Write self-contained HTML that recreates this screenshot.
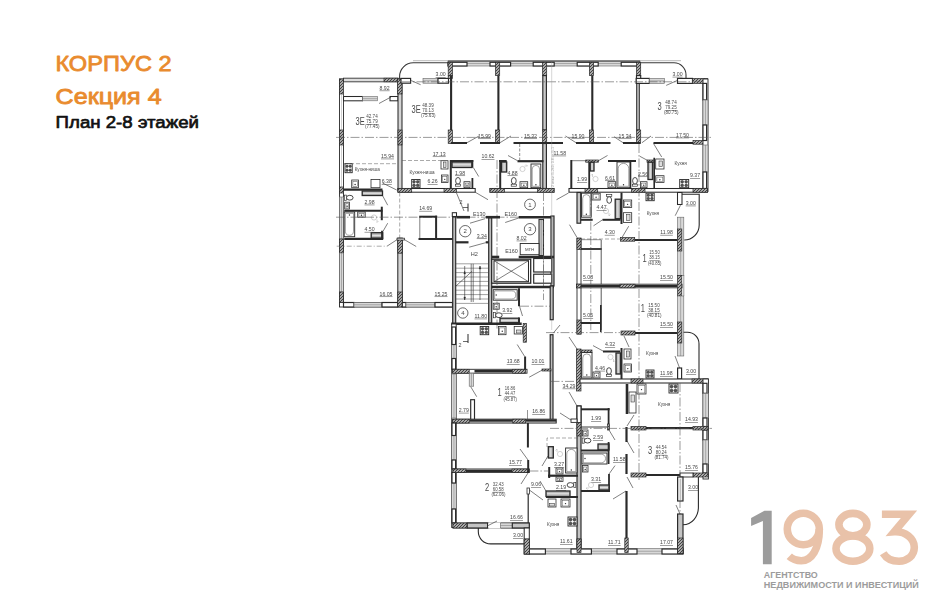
<!DOCTYPE html>
<html><head><meta charset="utf-8"><title>plan</title>
<style>
html,body{margin:0;padding:0;background:#fff;}
body{width:941px;height:600px;overflow:hidden;font-family:"Liberation Sans",sans-serif;}
svg{display:block;}
svg text{font-family:"Liberation Sans",sans-serif;}
</style></head><body>
<svg width="941" height="600" viewBox="0 0 941 600">
<defs>
<pattern id="hp" width="3" height="3" patternUnits="userSpaceOnUse">
<rect width="3" height="3" fill="#a8a8a8"/>
<path d="M0 3L3 0M-1 1L1 -1M2 4L4 2" stroke="#303030" stroke-width="0.85"/>
</pattern>
</defs>
<rect width="941" height="600" fill="#fff"/>
<!-- titles -->
<text x="55.4" y="71.4" font-size="22.8" fill="#E98B2E" stroke="#E98B2E" stroke-width="0.85" stroke-linejoin="round" textLength="116.2" lengthAdjust="spacingAndGlyphs">КОРПУС 2</text>
<text x="55.6" y="103.5" font-size="22.8" fill="#E98B2E" stroke="#E98B2E" stroke-width="0.85" stroke-linejoin="round" textLength="106" lengthAdjust="spacingAndGlyphs">Секция 4</text>
<text x="55.6" y="128" font-size="17.4" fill="#111" stroke="#111" stroke-width="0.7" stroke-linejoin="round" textLength="143.4" lengthAdjust="spacingAndGlyphs">План 2-8 этажей</text>
<!-- logo -->
<g id="logo">
<path d="M751.1 518.1 L764.5 510.7 L771.7 510.7 L771.7 564.2 L762.9 564.2 L762.9 520.9 L751.1 525.9 Z" fill="#9c9c9c"/>
<g fill="none" stroke="#E9C2A9" stroke-width="7.6">
<ellipse cx="803.3" cy="529" rx="16" ry="15.7"/>
<path d="M819.3 529 C819.3 549.5 811.5 560.7 801.3 560.7 C796.5 560.7 792.3 559.2 789.3 556.3"/>
<ellipse cx="852.9" cy="524.6" rx="14" ry="11.2"/>
<ellipse cx="852.9" cy="548.6" rx="16.9" ry="12.7"/>
<path d="M881.9 514.2 L909 514.2 L894.2 531.8 C905.5 531 914.3 538.5 914.3 547.3 C914.3 555.8 907.5 561.2 899 561.2 C891.5 561.2 886.3 558.3 883.2 553.2" stroke-linejoin="miter"/>
</g>
<text x="763.8" y="577.8" font-size="8.4" font-weight="bold" fill="#9c9c9c" textLength="54" lengthAdjust="spacingAndGlyphs">АГЕНТСТВО</text>
<text x="763.8" y="588.2" font-size="8.4" font-weight="bold" fill="#9c9c9c" textLength="155" lengthAdjust="spacingAndGlyphs">НЕДВИЖИМОСТИ И ИНВЕСТИЦИЙ</text>
</g>
<!-- floor plan -->
<g id="plan" style="filter:grayscale(1)">
<rect x="339.5" y="79" width="4.0" height="227.5" fill="#fff" stroke="#2a2a2a" stroke-width="0.91"/>
<line x1="341.5" y1="95" x2="341.5" y2="130" stroke="#888" stroke-width="0.4"/>
<line x1="341.5" y1="146" x2="341.5" y2="187" stroke="#888" stroke-width="0.4"/>
<rect x="339.5" y="79" width="4.0" height="15" fill="url(#hp)" stroke="#2a2a2a" stroke-width="0.7"/>
<rect x="339.5" y="130" width="4.0" height="15" fill="url(#hp)" stroke="#2a2a2a" stroke-width="0.7"/>
<rect x="339.5" y="187" width="4.0" height="6" fill="url(#hp)" stroke="#2a2a2a" stroke-width="0.7"/>
<rect x="343.5" y="78.2" width="54.5" height="3.6" fill="#fff" stroke="#2a2a2a" stroke-width="0.91"/>
<line x1="343.5" y1="80" x2="384" y2="80" stroke="#777" stroke-width="0.5"/>
<rect x="384" y="78.2" width="14" height="3.6" fill="url(#hp)" stroke="#2a2a2a" stroke-width="0.7"/>
<rect x="343.5" y="96.5" width="19.0" height="4.3" fill="#fff" stroke="#2a2a2a" stroke-width="1.04"/>
<rect x="362.5" y="96.5" width="15.0" height="4.3" fill="#d8d8d8" stroke="#666" stroke-width="0.6"/>
<line x1="362.5" y1="98.65" x2="377.5" y2="98.65" stroke="#777" stroke-width="0.5"/>
<rect x="390" y="96.5" width="8" height="4.3" fill="#fff" stroke="#2a2a2a" stroke-width="1.04"/>
<line x1="379" y1="103.5" x2="391" y2="97" stroke="#2a2a2a" stroke-width="0.6"/>
<line x1="343.5" y1="82" x2="343.5" y2="96.5" stroke="#666" stroke-width="0.5"/>
<rect x="398" y="79" width="4" height="112" fill="#d4d4d4" stroke="#2a2a2a" stroke-width="1.04"/>
<rect x="397.5" y="79" width="4.5" height="15" fill="url(#hp)" stroke="#2a2a2a" stroke-width="0.7"/>
<rect x="398" y="130" width="4" height="15" fill="url(#hp)" stroke="#2a2a2a" stroke-width="0.7"/>
<path d="M399.6 79.4 L399.6 76.4 A13.6 13.6 0 0 1 413.2 62.8 L448 62.8" fill="none" stroke="#3a3a3a" stroke-width="1.1"/>
<line x1="413" y1="60.7" x2="448" y2="60.7" stroke="#777" stroke-width="0.5"/>
<rect x="401" y="78.4" width="9.6" height="4.8" fill="#fff" stroke="#2a2a2a" stroke-width="1.17"/>
<line x1="411.2" y1="80.6" x2="420.6" y2="84.7" stroke="#2a2a2a" stroke-width="0.6"/>
<rect x="423" y="78.4" width="15" height="4.8" fill="#d8d8d8" stroke="#666" stroke-width="0.6"/>
<line x1="423" y1="80.80000000000001" x2="438" y2="80.80000000000001" stroke="#777" stroke-width="0.5"/>
<rect x="448.2" y="75.6" width="4.2" height="3.0" fill="url(#hp)" stroke="#2a2a2a" stroke-width="0.7"/>
<rect x="438" y="78.4" width="10.5" height="4.8" fill="#fff" stroke="#2a2a2a" stroke-width="1.17"/>
<rect x="448" y="61" width="192" height="5" fill="#d8d8d8" stroke="#666" stroke-width="0.6"/>
<line x1="448" y1="63.5" x2="640" y2="63.5" stroke="#777" stroke-width="0.5"/>
<line x1="448" y1="61" x2="640" y2="61" stroke="#2a2a2a" stroke-width="0.9"/>
<rect x="448" y="62.3" width="19" height="3.7" fill="#fff" stroke="#2a2a2a" stroke-width="1.17"/>
<rect x="490" y="62.3" width="20.6" height="3.7" fill="#fff" stroke="#2a2a2a" stroke-width="1.17"/>
<rect x="533.2" y="62.3" width="21.0" height="3.7" fill="#fff" stroke="#2a2a2a" stroke-width="1.17"/>
<rect x="577.2" y="62.3" width="21.0" height="3.7" fill="#fff" stroke="#2a2a2a" stroke-width="1.17"/>
<rect x="621.2" y="62.3" width="18.5" height="3.7" fill="#fff" stroke="#2a2a2a" stroke-width="1.17"/>
<rect x="448.2" y="62.3" width="4.2" height="13.3" fill="url(#hp)" stroke="#2a2a2a" stroke-width="0.7"/>
<line x1="451.09999999999997" y1="75.6" x2="451.09999999999997" y2="130" stroke="#2a2a2a" stroke-width="2.1"/>
<rect x="448.2" y="130" width="4.2" height="13.5" fill="url(#hp)" stroke="#2a2a2a" stroke-width="0.7"/>
<rect x="495.5" y="62.3" width="4.2" height="13.3" fill="url(#hp)" stroke="#2a2a2a" stroke-width="0.7"/>
<line x1="498.4" y1="75.6" x2="498.4" y2="130" stroke="#2a2a2a" stroke-width="2.1"/>
<rect x="495.5" y="130" width="4.2" height="13.5" fill="url(#hp)" stroke="#2a2a2a" stroke-width="0.7"/>
<rect x="542.5" y="62.3" width="4.2" height="13.3" fill="url(#hp)" stroke="#2a2a2a" stroke-width="0.7"/>
<rect x="542.8" y="75.6" width="3.6" height="54.4" fill="#c8c8c8" stroke="#2a2a2a" stroke-width="1.17"/>
<rect x="542.5" y="130" width="4.2" height="13.5" fill="url(#hp)" stroke="#2a2a2a" stroke-width="0.7"/>
<rect x="589.4" y="62.3" width="4.2" height="13.3" fill="url(#hp)" stroke="#2a2a2a" stroke-width="0.7"/>
<line x1="592.3" y1="75.6" x2="592.3" y2="130" stroke="#2a2a2a" stroke-width="2.1"/>
<rect x="589.4" y="130" width="4.2" height="13.5" fill="url(#hp)" stroke="#2a2a2a" stroke-width="0.7"/>
<rect x="636.5" y="62.3" width="4.2" height="13.3" fill="url(#hp)" stroke="#2a2a2a" stroke-width="0.7"/>
<rect x="636.7" y="82.4" width="2.6" height="47.6" fill="#c8c8c8" stroke="#2a2a2a" stroke-width="1.04"/>
<rect x="636.5" y="130" width="4.2" height="13.5" fill="url(#hp)" stroke="#2a2a2a" stroke-width="0.7"/>
<rect x="542.8" y="143.5" width="3.6" height="45.0" fill="#c8c8c8" stroke="#2a2a2a" stroke-width="1.17"/>
<line x1="451" y1="143" x2="467" y2="143" stroke="#2a2a2a" stroke-width="2.0"/>
<line x1="480" y1="143" x2="500" y2="143" stroke="#2a2a2a" stroke-width="2.0"/>
<line x1="513.5" y1="143" x2="563" y2="143" stroke="#2a2a2a" stroke-width="2.0"/>
<line x1="576" y1="143" x2="610.5" y2="143" stroke="#2a2a2a" stroke-width="2.0"/>
<line x1="623" y1="143" x2="640" y2="143" stroke="#2a2a2a" stroke-width="2.0"/>
<line x1="653.5" y1="143" x2="693" y2="143" stroke="#2a2a2a" stroke-width="2.0"/>
<rect x="693" y="140.5" width="11" height="3.7" fill="url(#hp)" stroke="#2a2a2a" stroke-width="0.7"/>
<line x1="467" y1="142.7" x2="479" y2="136" stroke="#2a2a2a" stroke-width="0.6"/>
<line x1="500" y1="142.7" x2="511" y2="136" stroke="#2a2a2a" stroke-width="0.6"/>
<line x1="565.5" y1="136" x2="576" y2="142.7" stroke="#2a2a2a" stroke-width="0.6"/>
<line x1="614" y1="136.7" x2="623" y2="142.7" stroke="#2a2a2a" stroke-width="0.6"/>
<line x1="651" y1="136" x2="642" y2="142.7" stroke="#2a2a2a" stroke-width="0.6"/>
<line x1="653.5" y1="143.5" x2="661.7" y2="157" stroke="#2a2a2a" stroke-width="0.6"/>
<path d="M640 62.8 L674 62.8 A12 12 0 0 1 686 74.8 L686 78.5" fill="none" stroke="#3a3a3a" stroke-width="1.1"/>
<line x1="640" y1="60.7" x2="681" y2="60.7" stroke="#777" stroke-width="0.5"/>
<rect x="636.5" y="75.6" width="4.2" height="7.8" fill="#fff" stroke="#2a2a2a" stroke-width="1.17"/>
<rect x="636.2" y="78.4" width="13.2" height="5.0" fill="#fff" stroke="#2a2a2a" stroke-width="1.17"/>
<rect x="649.4" y="78.4" width="15.0" height="5.0" fill="#d8d8d8" stroke="#666" stroke-width="0.6"/>
<line x1="649.4" y1="80.9" x2="664.4" y2="80.9" stroke="#777" stroke-width="0.5"/>
<line x1="666.2" y1="85.4" x2="677" y2="80.6" stroke="#2a2a2a" stroke-width="0.6"/>
<rect x="677.5" y="78.4" width="15.0" height="5.0" fill="#fff" stroke="#2a2a2a" stroke-width="1.17"/>
<rect x="692.5" y="78.4" width="15.0" height="5.0" fill="url(#hp)" stroke="#2a2a2a" stroke-width="0.7"/>
<rect x="703" y="79" width="5" height="112.5" fill="#fff" stroke="#2a2a2a" stroke-width="0.91"/>
<rect x="703" y="83.4" width="3.6" height="16.6" fill="#fff" stroke="#2a2a2a" stroke-width="1.17"/>
<rect x="703" y="100" width="5" height="25" fill="#d8d8d8" stroke="#666" stroke-width="0.6"/>
<line x1="705.5" y1="100" x2="705.5" y2="125" stroke="#777" stroke-width="0.5"/>
<rect x="703" y="125" width="3.6" height="15.5" fill="#fff" stroke="#2a2a2a" stroke-width="1.17"/>
<rect x="703" y="145" width="5" height="27" fill="#d8d8d8" stroke="#666" stroke-width="0.6"/>
<line x1="705.5" y1="145" x2="705.5" y2="172" stroke="#777" stroke-width="0.5"/>
<rect x="703" y="172" width="3.6" height="16.5" fill="#fff" stroke="#2a2a2a" stroke-width="1.17"/>
<line x1="336" y1="137.4" x2="712" y2="137.4" stroke="#555" stroke-width="0.6" stroke-dasharray="9 2 1.5 2"/>
<line x1="402" y1="81.8" x2="700" y2="81.8" stroke="#555" stroke-width="0.6" stroke-dasharray="9 2 1.5 2"/>
<line x1="344" y1="163.7" x2="398" y2="163.7" stroke="#555" stroke-width="0.5" stroke-dasharray="4 2"/>
<line x1="402" y1="160.5" x2="441" y2="160.5" stroke="#555" stroke-width="0.5" stroke-dasharray="4 2"/>
<line x1="343.5" y1="189.6" x2="382.5" y2="189.6" stroke="#2a2a2a" stroke-width="2.2"/>
<rect x="398" y="188.5" width="77.2" height="3.7" fill="#fff" stroke="#2a2a2a" stroke-width="1.04"/>
<rect x="398" y="188.5" width="13.7" height="3.7" fill="url(#hp)" stroke="#2a2a2a" stroke-width="0.7"/>
<rect x="444" y="188.5" width="12.5" height="3.7" fill="url(#hp)" stroke="#2a2a2a" stroke-width="0.7"/>
<rect x="490" y="188.5" width="64" height="3.7" fill="#fff" stroke="#2a2a2a" stroke-width="1.04"/>
<rect x="490" y="188.5" width="14.5" height="3.7" fill="url(#hp)" stroke="#2a2a2a" stroke-width="0.7"/>
<rect x="537.5" y="188.5" width="16.5" height="3.7" fill="url(#hp)" stroke="#2a2a2a" stroke-width="0.7"/>
<rect x="569" y="188.5" width="138.5" height="3.7" fill="#fff" stroke="#2a2a2a" stroke-width="1.04"/>
<rect x="585" y="188.5" width="12.7" height="3.7" fill="url(#hp)" stroke="#2a2a2a" stroke-width="0.7"/>
<rect x="631.5" y="188.5" width="13.5" height="3.7" fill="url(#hp)" stroke="#2a2a2a" stroke-width="0.7"/>
<rect x="693" y="188.5" width="14.5" height="3.7" fill="url(#hp)" stroke="#2a2a2a" stroke-width="0.7"/>
<rect x="345" y="163.7" width="7.2" height="9.0" fill="#fff" stroke="#2a2a2a" stroke-width="0.91"/>
<circle cx="347.02" cy="166.22" r="1.22" fill="#555" stroke="#2a2a2a" stroke-width="0.5"/>
<circle cx="347.02" cy="170.18" r="1.22" fill="#555" stroke="#2a2a2a" stroke-width="0.5"/>
<circle cx="350.18" cy="166.22" r="1.22" fill="#555" stroke="#2a2a2a" stroke-width="0.5"/>
<circle cx="350.18" cy="170.18" r="1.22" fill="#555" stroke="#2a2a2a" stroke-width="0.5"/>
<rect x="351.7" y="180" width="6.8" height="7.7" fill="#fff" stroke="#2a2a2a" stroke-width="0.78"/>
<rect x="352.9" y="181.4" width="4.4" height="5.3" fill="#fff" stroke="#555" stroke-width="0.52"/>
<circle cx="355.1" cy="184.45" r="0.7" fill="#2a2a2a"/>
<rect x="371" y="179.5" width="9" height="8.2" fill="#fff" stroke="#2a2a2a" stroke-width="0.78"/>
<line x1="382.5" y1="183" x2="396.7" y2="190" stroke="#2a2a2a" stroke-width="0.6"/>
<rect x="411.7" y="179.5" width="8.3" height="8.2" fill="#fff" stroke="#2a2a2a" stroke-width="0.91"/>
<circle cx="414.02" cy="181.8" r="1.39" fill="#555" stroke="#2a2a2a" stroke-width="0.5"/>
<circle cx="414.02" cy="185.4" r="1.39" fill="#555" stroke="#2a2a2a" stroke-width="0.5"/>
<circle cx="417.68" cy="181.8" r="1.39" fill="#555" stroke="#2a2a2a" stroke-width="0.5"/>
<circle cx="417.68" cy="185.4" r="1.39" fill="#555" stroke="#2a2a2a" stroke-width="0.5"/>
<rect x="441" y="160.7" width="7" height="8.3" fill="#fff" stroke="#2a2a2a" stroke-width="0.78"/>
<rect x="443.5" y="162" width="2.5" height="5.5" fill="#ddd" stroke="#2a2a2a" stroke-width="0.52"/>
<rect x="441.5" y="175" width="6.5" height="7.5" fill="#fff" stroke="#2a2a2a" stroke-width="0.78"/>
<rect x="442.7" y="176.4" width="4.1" height="5.1" fill="#fff" stroke="#555" stroke-width="0.52"/>
<circle cx="444.75" cy="179.35" r="0.7" fill="#2a2a2a"/>
<line x1="450.8" y1="160" x2="450.8" y2="188.5" stroke="#2a2a2a" stroke-width="2.0"/>
<line x1="451" y1="161" x2="473.3" y2="161" stroke="#2a2a2a" stroke-width="2.0"/>
<rect x="452" y="162" width="20" height="5.5" fill="#bbb" stroke="#2a2a2a" stroke-width="1.3"/>
<line x1="453" y1="164.75" x2="471" y2="164.75" stroke="#fff" stroke-width="0.6"/>
<line x1="472.4" y1="160" x2="472.4" y2="167.5" stroke="#2a2a2a" stroke-width="1.8"/>
<line x1="472.4" y1="178" x2="472.4" y2="188" stroke="#2a2a2a" stroke-width="1.8"/>
<line x1="473.3" y1="167.5" x2="478.7" y2="176.5" stroke="#2a2a2a" stroke-width="0.6"/>
<ellipse cx="458" cy="180.8" rx="2.4" ry="3.3" fill="#fff" stroke="#2a2a2a" stroke-width="0.85"/>
<rect x="455.4" y="184.20000000000002" width="5.2" height="2.0" fill="#fff" stroke="#2a2a2a" stroke-width="0.65"/>
<rect x="464" y="181.7" width="6" height="6.0" fill="#fff" stroke="#2a2a2a" stroke-width="0.78"/>
<rect x="465.2" y="183.1" width="3.6" height="3.6" fill="#fff" stroke="#555" stroke-width="0.52"/>
<circle cx="467.0" cy="185.29999999999998" r="0.7" fill="#2a2a2a"/>
<line x1="500.2" y1="160.7" x2="500.2" y2="188.5" stroke="#2a2a2a" stroke-width="2.0"/>
<line x1="499" y1="161" x2="506.7" y2="161" stroke="#2a2a2a" stroke-width="2.0"/>
<rect x="501.5" y="162" width="5.2" height="10" fill="#bbb" stroke="#2a2a2a" stroke-width="1.3"/>
<line x1="504.1" y1="163" x2="504.1" y2="171" stroke="#fff" stroke-width="0.6"/>
<line x1="519.7" y1="144" x2="519.7" y2="160" stroke="#444" stroke-width="0.6" stroke-dasharray="3 1.5"/>
<line x1="517.5" y1="161.2" x2="543.5" y2="161.2" stroke="#2a2a2a" stroke-width="2.2"/>
<line x1="508" y1="155.5" x2="517.5" y2="160.7" stroke="#2a2a2a" stroke-width="0.6"/>
<rect x="531" y="164" width="9.8" height="23.7" fill="#fff" stroke="#2a2a2a" stroke-width="0.91"/>
<path d="M532.2 186.29999999999998 L532.2 169.1 A3.699999999999977 3.699999999999977 0 0 1 539.5999999999999 169.1 L539.5999999999999 186.29999999999998 Z" fill="none" stroke="#444" stroke-width="0.5"/>
<circle cx="535.9" cy="184.7" r="0.7" fill="#2a2a2a"/>
<ellipse cx="513.8" cy="180.8" rx="2.4" ry="3.3" fill="#fff" stroke="#2a2a2a" stroke-width="0.85"/>
<rect x="511.19999999999993" y="184.20000000000002" width="5.2" height="2.0" fill="#fff" stroke="#2a2a2a" stroke-width="0.65"/>
<rect x="520" y="181.7" width="7.7" height="6.0" fill="#fff" stroke="#2a2a2a" stroke-width="0.78"/>
<rect x="521.2" y="183.1" width="5.3" height="3.6" fill="#fff" stroke="#555" stroke-width="0.52"/>
<circle cx="523.85" cy="185.29999999999998" r="0.7" fill="#2a2a2a"/>
<g transform="translate(523.5,169) rotate(90)" stroke="#b5b5b5" stroke-width="0.6" fill="none"><circle cx="0" cy="1" r="2.6"/><path d="M-3 -4 L-3 -1 M-4.5 -2.5 L-3 -4"/></g>
<line x1="571.3" y1="160" x2="571.3" y2="188.5" stroke="#2a2a2a" stroke-width="2.0"/>
<line x1="572" y1="160.7" x2="586" y2="160.7" stroke="#2a2a2a" stroke-width="0.6"/>
<line x1="589.2" y1="160" x2="589.2" y2="188.5" stroke="#2a2a2a" stroke-width="1.8"/>
<rect x="585.7" y="160" width="12.8" height="2.2" fill="url(#hp)" stroke="#2a2a2a" stroke-width="0.7"/>
<rect x="590.2" y="162.2" width="3.8" height="8.8" fill="#bbb" stroke="#2a2a2a" stroke-width="1.3"/>
<line x1="592.1" y1="163.2" x2="592.1" y2="170" stroke="#fff" stroke-width="0.6"/>
<line x1="598.5" y1="160.7" x2="607.5" y2="155.5" stroke="#2a2a2a" stroke-width="0.6"/>
<line x1="608" y1="161" x2="636" y2="161" stroke="#2a2a2a" stroke-width="2.0"/>
<rect x="617" y="162" width="13" height="25.7" fill="#fff" stroke="#2a2a2a" stroke-width="0.91"/>
<path d="M618.2 186.29999999999998 L618.2 168.70000000000002 A5.3 5.3 0 0 1 628.8 168.70000000000002 L628.8 186.29999999999998 Z" fill="none" stroke="#444" stroke-width="0.5"/>
<circle cx="623.5" cy="184.7" r="0.7" fill="#2a2a2a"/>
<line x1="630.6" y1="162" x2="630.6" y2="188.5" stroke="#2a2a2a" stroke-width="1.4"/>
<rect x="608" y="181.7" width="7.7" height="6.0" fill="#fff" stroke="#2a2a2a" stroke-width="0.78"/>
<rect x="609.2" y="183.1" width="5.3" height="3.6" fill="#fff" stroke="#555" stroke-width="0.52"/>
<circle cx="611.85" cy="185.29999999999998" r="0.7" fill="#2a2a2a"/>
<g transform="translate(595.5,178) rotate(0)" stroke="#b5b5b5" stroke-width="0.6" fill="none"><circle cx="0" cy="1" r="2.6"/><path d="M-3 -4 L-3 -1 M-4.5 -2.5 L-3 -4"/></g>
<ellipse cx="635" cy="180.8" rx="2.4" ry="3.3" fill="#fff" stroke="#2a2a2a" stroke-width="0.85"/>
<rect x="632.4" y="184.20000000000002" width="5.2" height="2.0" fill="#fff" stroke="#2a2a2a" stroke-width="0.65"/>
<rect x="640.5" y="181.7" width="6.5" height="6.0" fill="#fff" stroke="#2a2a2a" stroke-width="0.78"/>
<rect x="641.7" y="183.1" width="4.1" height="3.6" fill="#fff" stroke="#555" stroke-width="0.52"/>
<circle cx="643.75" cy="185.29999999999998" r="0.7" fill="#2a2a2a"/>
<rect x="647" y="160" width="7.7" height="2.2" fill="url(#hp)" stroke="#2a2a2a" stroke-width="0.7"/>
<rect x="648" y="162.2" width="4.7" height="17.3" fill="#bbb" stroke="#2a2a2a" stroke-width="1.3"/>
<line x1="650.35" y1="163.2" x2="650.35" y2="178.5" stroke="#fff" stroke-width="0.6"/>
<line x1="654.2" y1="157.7" x2="654.2" y2="188.5" stroke="#2a2a2a" stroke-width="1.6"/>
<line x1="639.7" y1="156.2" x2="648" y2="160.7" stroke="#2a2a2a" stroke-width="0.6"/>
<rect x="655.7" y="159" width="8.3" height="10" fill="#fff" stroke="#2a2a2a" stroke-width="0.78"/>
<rect x="659" y="161" width="3.5" height="5.5" fill="#ddd" stroke="#2a2a2a" stroke-width="0.52"/>
<rect x="655.7" y="175.7" width="8.3" height="6.8" fill="#fff" stroke="#2a2a2a" stroke-width="0.78"/>
<rect x="656.9000000000001" y="177.1" width="5.9" height="4.4" fill="#fff" stroke="#555" stroke-width="0.52"/>
<circle cx="659.85" cy="179.7" r="0.7" fill="#2a2a2a"/>
<rect x="679.7" y="179.5" width="9.0" height="8.2" fill="#fff" stroke="#2a2a2a" stroke-width="0.91"/>
<circle cx="682.22" cy="181.8" r="1.39" fill="#555" stroke="#2a2a2a" stroke-width="0.5"/>
<circle cx="682.22" cy="185.4" r="1.39" fill="#555" stroke="#2a2a2a" stroke-width="0.5"/>
<circle cx="686.18" cy="181.8" r="1.39" fill="#555" stroke="#2a2a2a" stroke-width="0.5"/>
<circle cx="686.18" cy="185.4" r="1.39" fill="#555" stroke="#2a2a2a" stroke-width="0.5"/>
<text x="381" y="157.7" font-size="5.2" fill="#484848" text-anchor="start" text-decoration="underline">15.94</text>
<text x="432.7" y="155.5" font-size="5.2" fill="#484848" text-anchor="start" text-decoration="underline">17.13</text>
<text x="381.7" y="183.2" font-size="5.2" fill="#484848" text-anchor="start" text-decoration="underline">6.38</text>
<text x="427.5" y="183.2" font-size="5.2" fill="#484848" text-anchor="start" text-decoration="underline">6.26</text>
<text x="354.7" y="171" font-size="4.6" fill="#484848" text-anchor="start">Кухня-ниша</text>
<text x="409.5" y="174.4" font-size="4.6" fill="#484848" text-anchor="start">Кухня-ниша</text>
<text x="455" y="174.5" font-size="5.2" fill="#484848" text-anchor="start" text-decoration="underline">1.98</text>
<text x="507.5" y="174.5" font-size="5.2" fill="#484848" text-anchor="start" text-decoration="underline">4.88</text>
<text x="481.5" y="158" font-size="5.2" fill="#484848" text-anchor="start" text-decoration="underline">10.62</text>
<text x="553.5" y="154.7" font-size="5.2" fill="#484848" text-anchor="start" text-decoration="underline">11.58</text>
<text x="478" y="137.5" font-size="5.2" fill="#484848" text-anchor="start" text-decoration="underline">15.99</text>
<text x="524" y="137.5" font-size="5.2" fill="#484848" text-anchor="start" text-decoration="underline">15.32</text>
<text x="571.5" y="137.5" font-size="5.2" fill="#484848" text-anchor="start" text-decoration="underline">15.90</text>
<text x="618.5" y="137.5" font-size="5.2" fill="#484848" text-anchor="start" text-decoration="underline">15.34</text>
<text x="676" y="136.7" font-size="5.2" fill="#484848" text-anchor="start" text-decoration="underline">17.50</text>
<text x="577" y="181" font-size="5.2" fill="#484848" text-anchor="start" text-decoration="underline">1.99</text>
<text x="605" y="179.5" font-size="5.2" fill="#484848" text-anchor="start" text-decoration="underline">6.61</text>
<text x="638" y="175.5" font-size="5.2" fill="#484848" text-anchor="start" text-decoration="underline">2.56</text>
<text x="690" y="177" font-size="5.2" fill="#484848" text-anchor="start" text-decoration="underline">9.37</text>
<text x="674.5" y="164.5" font-size="4.6" fill="#484848" text-anchor="start">Кухня</text>
<text x="379.5" y="89.6" font-size="5.2" fill="#484848" text-anchor="start" text-decoration="underline">8.92</text>
<text x="435.6" y="76" font-size="5.2" fill="#484848" text-anchor="start" text-decoration="underline">3.00</text>
<text x="672.5" y="75.8" font-size="5.2" fill="#484848" text-anchor="start" text-decoration="underline">3.00</text>
<text x="355.6" y="124.6" font-size="10.8" fill="#4a4a4a" textLength="9.200000000000001" lengthAdjust="spacingAndGlyphs">3Е</text>
<text x="366.3" y="118.2" font-size="4.8" fill="#484848" text-anchor="start" textLength="11.4" lengthAdjust="spacingAndGlyphs">42.74</text>
<text x="366.3" y="123.3" font-size="4.8" fill="#484848" text-anchor="start" text-decoration="underline" textLength="11.4" lengthAdjust="spacingAndGlyphs">75.79</text>
<text x="364.9" y="128.4" font-size="4.8" fill="#484848" text-anchor="start" textLength="14.6" lengthAdjust="spacingAndGlyphs">(77.45)</text>
<text x="411.5" y="112.9" font-size="10.8" fill="#4a4a4a" textLength="9.200000000000001" lengthAdjust="spacingAndGlyphs">3Е</text>
<text x="422.3" y="107.2" font-size="4.8" fill="#484848" text-anchor="start" textLength="11.4" lengthAdjust="spacingAndGlyphs">48.39</text>
<text x="422.3" y="112.3" font-size="4.8" fill="#484848" text-anchor="start" text-decoration="underline" textLength="11.4" lengthAdjust="spacingAndGlyphs">70.13</text>
<text x="420.9" y="117.4" font-size="4.8" fill="#484848" text-anchor="start" textLength="14.6" lengthAdjust="spacingAndGlyphs">(75.63)</text>
<text x="657.5" y="109.9" font-size="10.8" fill="#4a4a4a" textLength="4.2" lengthAdjust="spacingAndGlyphs">3</text>
<text x="665.3" y="104.2" font-size="4.8" fill="#484848" text-anchor="start" textLength="11.4" lengthAdjust="spacingAndGlyphs">48.74</text>
<text x="665.3" y="109.3" font-size="4.8" fill="#484848" text-anchor="start" text-decoration="underline" textLength="11.4" lengthAdjust="spacingAndGlyphs">79.25</text>
<text x="663.9" y="114.4" font-size="4.8" fill="#484848" text-anchor="start" textLength="14.6" lengthAdjust="spacingAndGlyphs">(80.75)</text>
<rect x="339.5" y="197" width="4.0" height="42" fill="#d8d8d8" stroke="#666" stroke-width="0.6"/>
<line x1="341.5" y1="197" x2="341.5" y2="239" stroke="#777" stroke-width="0.5"/>
<rect x="339.5" y="239" width="4.0" height="14" fill="url(#hp)" stroke="#2a2a2a" stroke-width="0.7"/>
<rect x="339.5" y="253" width="4.0" height="39" fill="#d8d8d8" stroke="#666" stroke-width="0.6"/>
<line x1="341.5" y1="253" x2="341.5" y2="292" stroke="#777" stroke-width="0.5"/>
<rect x="339.5" y="292" width="4.0" height="14.5" fill="url(#hp)" stroke="#2a2a2a" stroke-width="0.7"/>
<rect x="362.2" y="191" width="20.3" height="4.5" fill="#bbb" stroke="#2a2a2a" stroke-width="1.3"/>
<line x1="363.2" y1="193.25" x2="381.5" y2="193.25" stroke="#fff" stroke-width="0.6"/>
<ellipse cx="349.8" cy="197.7" rx="3.3" ry="2.4" fill="#fff" stroke="#2a2a2a" stroke-width="0.85"/>
<rect x="344.40000000000003" y="195.1" width="2.0" height="5.2" fill="#fff" stroke="#2a2a2a" stroke-width="0.65"/>
<rect x="344.7" y="202.2" width="4.8" height="6.8" fill="#fff" stroke="#2a2a2a" stroke-width="0.78"/>
<rect x="345.9" y="203.6" width="2.4" height="4.4" fill="#fff" stroke="#555" stroke-width="0.52"/>
<circle cx="347.1" cy="206.2" r="0.7" fill="#2a2a2a"/>
<line x1="344.2" y1="210.8" x2="382.5" y2="210.8" stroke="#2a2a2a" stroke-width="2.0"/>
<line x1="381.8" y1="206.7" x2="381.8" y2="220.2" stroke="#2a2a2a" stroke-width="2.0"/>
<line x1="382.5" y1="195.5" x2="387.7" y2="205.2" stroke="#2a2a2a" stroke-width="0.6"/>
<line x1="387.7" y1="223.2" x2="382.5" y2="232.2" stroke="#2a2a2a" stroke-width="0.6"/>
<rect x="344.2" y="212" width="10.5" height="24.7" fill="#fff" stroke="#2a2a2a" stroke-width="0.91"/>
<path d="M345.4 213.4 L345.4 231.24999999999997 A4.05 4.05 0 0 0 353.5 231.24999999999997 L353.5 213.4 Z" fill="none" stroke="#444" stroke-width="0.5"/>
<circle cx="349.45" cy="215" r="0.7" fill="#2a2a2a"/>
<rect x="357.7" y="212" width="7.5" height="5.2" fill="#fff" stroke="#2a2a2a" stroke-width="0.78"/>
<rect x="358.9" y="213.4" width="5.1" height="2.8" fill="#fff" stroke="#555" stroke-width="0.52"/>
<circle cx="361.45" cy="215.2" r="0.7" fill="#2a2a2a"/>
<g transform="translate(374,218.5) rotate(180)" stroke="#b5b5b5" stroke-width="0.6" fill="none"><circle cx="0" cy="1" r="2.6"/><path d="M-3 -4 L-3 -1 M-4.5 -2.5 L-3 -4"/></g>
<rect x="371.2" y="232.7" width="11.6" height="5.5" fill="#bbb" stroke="#2a2a2a" stroke-width="1.3"/>
<line x1="372.2" y1="235.45" x2="381.8" y2="235.45" stroke="#fff" stroke-width="0.6"/>
<line x1="382" y1="230.7" x2="382" y2="239" stroke="#2a2a2a" stroke-width="1.8"/>
<line x1="344.2" y1="238.8" x2="383.2" y2="238.8" stroke="#2a2a2a" stroke-width="2.2"/>
<text x="364.5" y="203.7" font-size="5.2" fill="#484848" text-anchor="start" text-decoration="underline">2.98</text>
<text x="364.5" y="230.9" font-size="5.2" fill="#484848" text-anchor="start" text-decoration="underline">4.50</text>
<text x="419.2" y="209.9" font-size="5.2" fill="#484848" text-anchor="start" text-decoration="underline">14.69</text>
<line x1="336" y1="217.2" x2="552" y2="217.2" stroke="#555" stroke-width="0.6" stroke-dasharray="9 2 1.5 2"/>
<line x1="336.7" y1="246.2" x2="387" y2="246.2" stroke="#555" stroke-width="0.5" stroke-dasharray="5 2 1 2"/>
<line x1="399.7" y1="192.5" x2="399.7" y2="238" stroke="#555" stroke-width="0.5" stroke-dasharray="4 2"/>
<rect x="397.8" y="238.2" width="4.5" height="68.3" fill="#d4d4d4" stroke="#2a2a2a" stroke-width="1.04"/>
<rect x="397.8" y="238.2" width="4.5" height="15.0" fill="url(#hp)" stroke="#2a2a2a" stroke-width="0.7"/>
<rect x="397" y="238.2" width="7.5" height="1.8" fill="#fff" stroke="#2a2a2a" stroke-width="0.78"/>
<line x1="397" y1="239.7" x2="387" y2="246.2" stroke="#2a2a2a" stroke-width="0.6"/>
<line x1="404.5" y1="239.7" x2="416.2" y2="246.5" stroke="#2a2a2a" stroke-width="0.6"/>
<rect x="339.5" y="302.5" width="112.5" height="4.5" fill="#fff" stroke="#2a2a2a" stroke-width="0.91"/>
<rect x="343.5" y="302.5" width="10.5" height="4.5" fill="#fff" stroke="#2a2a2a" stroke-width="1.17"/>
<rect x="354" y="302.5" width="28" height="4.5" fill="#d8d8d8" stroke="#666" stroke-width="0.6"/>
<line x1="354" y1="304.75" x2="382" y2="304.75" stroke="#777" stroke-width="0.5"/>
<rect x="382" y="302.5" width="15.6" height="4.5" fill="#fff" stroke="#2a2a2a" stroke-width="1.17"/>
<rect x="397.8" y="292" width="4.5" height="15" fill="url(#hp)" stroke="#2a2a2a" stroke-width="0.7"/>
<rect x="402.3" y="302.5" width="3.7" height="4.5" fill="#fff" stroke="#2a2a2a" stroke-width="1.17"/>
<rect x="406" y="302.5" width="29" height="4.5" fill="#d8d8d8" stroke="#666" stroke-width="0.6"/>
<line x1="406" y1="304.75" x2="435" y2="304.75" stroke="#777" stroke-width="0.5"/>
<rect x="435" y="302.5" width="17.5" height="4.5" fill="#fff" stroke="#2a2a2a" stroke-width="1.17"/>
<text x="379.5" y="295.5" font-size="5.2" fill="#484848" text-anchor="start" text-decoration="underline">16.05</text>
<text x="434.5" y="295.5" font-size="5.2" fill="#484848" text-anchor="start" text-decoration="underline">15.25</text>
<line x1="419.2" y1="216.7" x2="437.2" y2="216.7" stroke="#2a2a2a" stroke-width="2.0"/>
<line x1="419.8" y1="217" x2="419.8" y2="238" stroke="#2a2a2a" stroke-width="0.6"/>
<line x1="436.1" y1="215.7" x2="436.1" y2="239.7" stroke="#2a2a2a" stroke-width="2.0"/>
<line x1="418.5" y1="239" x2="452.7" y2="239" stroke="#2a2a2a" stroke-width="2.2"/>
<rect x="452.3" y="212.7" width="4.2" height="3.8" fill="#fff" stroke="#2a2a2a" stroke-width="1.04"/>
<line x1="456.5" y1="217.2" x2="470" y2="217.2" stroke="#2a2a2a" stroke-width="2.6"/>
<line x1="485.7" y1="217.2" x2="500" y2="217.2" stroke="#2a2a2a" stroke-width="2.6"/>
<line x1="518.7" y1="217.2" x2="554" y2="217.2" stroke="#2a2a2a" stroke-width="2.6"/>
<rect x="452.7" y="217" width="3.0" height="107" fill="#bdbdbd" stroke="#2a2a2a" stroke-width="1.17"/>
<rect x="488.7" y="218" width="3.0" height="105" fill="#bdbdbd" stroke="#2a2a2a" stroke-width="1.17"/>
<rect x="551" y="216" width="3" height="70" fill="#bdbdbd" stroke="#2a2a2a" stroke-width="1.17"/>
<circle cx="465.2" cy="231.2" r="5.7" fill="none" stroke="#2a2a2a" stroke-width="0.7"/>
<text x="465.2" y="233.4" font-size="6" fill="#484848" text-anchor="middle">2</text>
<circle cx="530" cy="229.2" r="5.7" fill="none" stroke="#2a2a2a" stroke-width="0.7"/>
<text x="530" y="231.4" font-size="6" fill="#484848" text-anchor="middle">3</text>
<circle cx="530" cy="204.5" r="5.4" fill="none" stroke="#2a2a2a" stroke-width="0.7"/>
<text x="530" y="206.7" font-size="6" fill="#484848" text-anchor="middle">1</text>
<text x="476.7" y="237.5" font-size="5.2" fill="#484848" text-anchor="start" text-decoration="underline">3.34</text>
<text x="516.5" y="239.7" font-size="5.2" fill="#484848" text-anchor="start" text-decoration="underline">8.02</text>
<text x="470.7" y="256" font-size="5.6" fill="#484848" text-anchor="start">Н2</text>
<text x="505.2" y="252.5" font-size="5.4" fill="#484848" text-anchor="start">Е160</text>
<text x="473" y="216.3" font-size="5.4" fill="#484848" text-anchor="start">Е130</text>
<text x="504.5" y="216.3" font-size="5.4" fill="#484848" text-anchor="start">Е160</text>
<line x1="455.7" y1="242.3" x2="468.5" y2="242.3" stroke="#2a2a2a" stroke-width="2.2"/>
<line x1="485.7" y1="242.3" x2="488.7" y2="242.3" stroke="#2a2a2a" stroke-width="2.2"/>
<line x1="470" y1="223.2" x2="485" y2="218.7" stroke="#2a2a2a" stroke-width="0.6"/>
<line x1="469.2" y1="247.2" x2="485.7" y2="242.7" stroke="#2a2a2a" stroke-width="0.6"/>
<line x1="505.2" y1="222.5" x2="518.7" y2="218" stroke="#2a2a2a" stroke-width="0.6"/>
<line x1="456.5" y1="193" x2="464" y2="211" stroke="#2a2a2a" stroke-width="0.6"/>
<line x1="475.2" y1="192.2" x2="488" y2="199.7" stroke="#2a2a2a" stroke-width="0.6"/>
<line x1="568.5" y1="193" x2="556.5" y2="199.7" stroke="#2a2a2a" stroke-width="0.6"/>
<text x="459.5" y="203.5" font-size="5.4" fill="#484848" text-anchor="start">2</text>
<line x1="463" y1="207.5" x2="468" y2="207.5" stroke="#2a2a2a" stroke-width="0.7"/>
<line x1="468" y1="203.5" x2="468" y2="211.5" stroke="#2a2a2a" stroke-width="1.0"/>
<rect x="539" y="219.5" width="4.5" height="36.0" fill="#ccc" stroke="#2a2a2a" stroke-width="1.04"/>
<line x1="541.2" y1="220" x2="541.2" y2="255" stroke="#666" stroke-width="0.5"/>
<rect x="520.2" y="243.5" width="18.8" height="11.2" fill="#fff" stroke="#2a2a2a" stroke-width="0.91"/>
<text x="529.6" y="251" font-size="4.4" fill="#484848" text-anchor="middle">МГН</text>
<line x1="491.7" y1="257" x2="499.2" y2="257" stroke="#2a2a2a" stroke-width="2.6"/>
<line x1="518.7" y1="257" x2="554" y2="257" stroke="#2a2a2a" stroke-width="2.6"/>
<rect x="491.7" y="259.2" width="39.0" height="24.0" fill="#fff" stroke="#2a2a2a" stroke-width="1.3"/>
<rect x="494" y="260.7" width="34.5" height="21.0" fill="#fff" stroke="#2a2a2a" stroke-width="1.04"/>
<line x1="494" y1="260.7" x2="528.5" y2="281.7" stroke="#2a2a2a" stroke-width="0.6"/>
<line x1="494" y1="281.7" x2="528.5" y2="260.7" stroke="#2a2a2a" stroke-width="0.6"/>
<rect x="533.7" y="258.5" width="18.0" height="13.5" fill="#fff" stroke="#2a2a2a" stroke-width="1.17"/>
<rect x="533.7" y="274.2" width="18.0" height="9.0" fill="#fff" stroke="#2a2a2a" stroke-width="1.17"/>
<line x1="543.5" y1="258.5" x2="543.5" y2="283.2" stroke="#666" stroke-width="0.5"/>
<line x1="455.7" y1="263.8" x2="488.7" y2="263.8" stroke="#444" stroke-width="0.5"/>
<line x1="455.7" y1="268.2" x2="488.7" y2="268.2" stroke="#444" stroke-width="0.5"/>
<line x1="455.7" y1="272.6" x2="488.7" y2="272.6" stroke="#444" stroke-width="0.5"/>
<line x1="455.7" y1="277.0" x2="488.7" y2="277.0" stroke="#444" stroke-width="0.5"/>
<line x1="455.7" y1="281.40000000000003" x2="488.7" y2="281.40000000000003" stroke="#444" stroke-width="0.5"/>
<line x1="455.7" y1="285.8" x2="488.7" y2="285.8" stroke="#444" stroke-width="0.5"/>
<line x1="455.7" y1="290.2" x2="488.7" y2="290.2" stroke="#444" stroke-width="0.5"/>
<line x1="455.7" y1="294.6" x2="488.7" y2="294.6" stroke="#444" stroke-width="0.5"/>
<line x1="455.7" y1="299.0" x2="488.7" y2="299.0" stroke="#444" stroke-width="0.5"/>
<line x1="455.7" y1="303.40000000000003" x2="488.7" y2="303.40000000000003" stroke="#444" stroke-width="0.5"/>
<line x1="471.2" y1="263.8" x2="471.2" y2="302" stroke="#2a2a2a" stroke-width="0.6"/>
<line x1="473.2" y1="263.8" x2="473.2" y2="302" stroke="#2a2a2a" stroke-width="0.6"/>
<line x1="456" y1="286" x2="472" y2="271.3" stroke="#2a2a2a" stroke-width="0.6"/>
<line x1="464.7" y1="266" x2="464.7" y2="300" stroke="#2a2a2a" stroke-width="0.6"/>
<line x1="480" y1="266" x2="480" y2="300" stroke="#2a2a2a" stroke-width="0.6"/>
<path d="M464.7 300 l-0.9 -3 l1.8 0 Z M480 266 l-0.9 3 l1.8 0 Z M464.7 271 l-0.9 3 l1.8 0 Z" fill="#2a2a2a" stroke="#2a2a2a" stroke-width="0.3"/>
<line x1="497" y1="160" x2="497" y2="330" stroke="#555" stroke-width="0.6" stroke-dasharray="9 2 1.5 2"/>
<line x1="543.5" y1="192" x2="543.5" y2="300" stroke="#555" stroke-width="0.6" stroke-dasharray="9 2 1.5 2"/>
<line x1="551.7" y1="62" x2="551.7" y2="330" stroke="#999" stroke-width="0.4"/>
<rect x="577" y="192.5" width="3.7" height="30.7" fill="#c8c8c8" stroke="#2a2a2a" stroke-width="1.17"/>
<rect x="581.5" y="193.2" width="9.7" height="24.0" fill="#fff" stroke="#2a2a2a" stroke-width="0.91"/>
<path d="M582.7 215.79999999999998 L582.7 198.25000000000003 A3.6500000000000226 3.6500000000000226 0 0 1 590.0 198.25000000000003 L590.0 215.79999999999998 Z" fill="none" stroke="#444" stroke-width="0.5"/>
<circle cx="586.35" cy="214.2" r="0.7" fill="#2a2a2a"/>
<line x1="580.7" y1="219.8" x2="592.7" y2="219.8" stroke="#2a2a2a" stroke-width="2.0"/>
<rect x="592" y="193.2" width="8.2" height="6.8" fill="#fff" stroke="#2a2a2a" stroke-width="0.78"/>
<rect x="593.2" y="194.6" width="5.8" height="4.4" fill="#fff" stroke="#555" stroke-width="0.52"/>
<circle cx="596.1" cy="197.2" r="0.7" fill="#2a2a2a"/>
<ellipse cx="609.2" cy="200" rx="2.4" ry="3.3" fill="#fff" stroke="#2a2a2a" stroke-width="0.85"/>
<rect x="606.6" y="194.6" width="5.2" height="2.0" fill="#fff" stroke="#2a2a2a" stroke-width="0.65"/>
<g transform="translate(606,212) rotate(180)" stroke="#b5b5b5" stroke-width="0.6" fill="none"><circle cx="0" cy="1" r="2.6"/><path d="M-3 -4 L-3 -1 M-4.5 -2.5 L-3 -4"/></g>
<rect x="615.2" y="199.2" width="5.3" height="19.5" fill="#bbb" stroke="#2a2a2a" stroke-width="1.3"/>
<line x1="617.85" y1="200.2" x2="617.85" y2="217.7" stroke="#fff" stroke-width="0.6"/>
<line x1="602.5" y1="219.8" x2="620.5" y2="219.8" stroke="#2a2a2a" stroke-width="2.0"/>
<line x1="621.5" y1="192.5" x2="621.5" y2="224" stroke="#2a2a2a" stroke-width="2.0"/>
<line x1="602.5" y1="219.8" x2="593.5" y2="225.8" stroke="#2a2a2a" stroke-width="0.6"/>
<rect x="623.5" y="200" width="8.2" height="7.5" fill="#fff" stroke="#2a2a2a" stroke-width="0.78"/>
<rect x="624.7" y="201.4" width="5.8" height="5.1" fill="#fff" stroke="#555" stroke-width="0.52"/>
<circle cx="627.6" cy="204.35" r="0.7" fill="#2a2a2a"/>
<rect x="623.5" y="212.7" width="8.2" height="9.8" fill="#fff" stroke="#2a2a2a" stroke-width="0.78"/>
<rect x="626.5" y="214.5" width="3.5" height="6.0" fill="#ddd" stroke="#2a2a2a" stroke-width="0.52"/>
<rect x="646" y="193.2" width="8.2" height="7.5" fill="#fff" stroke="#2a2a2a" stroke-width="0.91"/>
<circle cx="648.3" cy="195.3" r="1.28" fill="#555" stroke="#2a2a2a" stroke-width="0.5"/>
<circle cx="648.3" cy="198.6" r="1.28" fill="#555" stroke="#2a2a2a" stroke-width="0.5"/>
<circle cx="651.9" cy="195.3" r="1.28" fill="#555" stroke="#2a2a2a" stroke-width="0.5"/>
<circle cx="651.9" cy="198.6" r="1.28" fill="#555" stroke="#2a2a2a" stroke-width="0.5"/>
<text x="646.7" y="215" font-size="4.6" fill="#484848" text-anchor="start">Кухня</text>
<text x="604.7" y="233.9" font-size="5.2" fill="#484848" text-anchor="start" text-decoration="underline">4.30</text>
<text x="660.2" y="233.9" font-size="5.2" fill="#484848" text-anchor="start" text-decoration="underline">11.98</text>
<text x="596.5" y="209.2" font-size="5.2" fill="#484848" text-anchor="start" text-decoration="underline">4.47</text>
<text x="685.7" y="204.7" font-size="5.2" fill="#484848" text-anchor="start" text-decoration="underline">3.00</text>
<line x1="569.5" y1="224.7" x2="577" y2="237.5" stroke="#2a2a2a" stroke-width="0.6"/>
<line x1="628.7" y1="226.2" x2="622" y2="237.5" stroke="#2a2a2a" stroke-width="0.6"/>
<rect x="620.5" y="237.5" width="14.2" height="3.7" fill="url(#hp)" stroke="#2a2a2a" stroke-width="0.7"/>
<line x1="634.7" y1="240" x2="677.5" y2="240" stroke="#2a2a2a" stroke-width="2.2"/>
<rect x="577" y="238.2" width="4" height="95.8" fill="#fff" stroke="#2a2a2a" stroke-width="0.91"/>
<rect x="577" y="238.2" width="4" height="11.3" fill="url(#hp)" stroke="#2a2a2a" stroke-width="0.7"/>
<line x1="581" y1="239.7" x2="601" y2="239.7" stroke="#2a2a2a" stroke-width="0.5"/>
<line x1="581" y1="249" x2="601.7" y2="249" stroke="#2a2a2a" stroke-width="1.8"/>
<line x1="601.2" y1="239.7" x2="601.2" y2="330" stroke="#444" stroke-width="0.9"/>
<line x1="581" y1="239" x2="620.5" y2="239" stroke="#555" stroke-width="0.5" stroke-dasharray="4 2"/>
<line x1="590.8" y1="192.5" x2="590.8" y2="330" stroke="#555" stroke-width="0.6" stroke-dasharray="9 2 1.5 2"/>
<line x1="639" y1="144" x2="639" y2="480" stroke="#555" stroke-width="0.6" stroke-dasharray="9 2 1.5 2"/>
<rect x="677.5" y="192.5" width="4.5" height="12.0" fill="#fff" stroke="#2a2a2a" stroke-width="1.04"/>
<path d="M682 194.3 L699.2 194.3 L699.2 225 A15 15 0 0 1 684.2 240" fill="none" stroke="#2a2a2a" stroke-width="1.1"/>
<line x1="680.5" y1="205.2" x2="675.2" y2="215.7" stroke="#2a2a2a" stroke-width="0.6"/>
<rect x="677.5" y="217.2" width="6.3" height="58.4" fill="#d8d8d8" stroke="#666" stroke-width="0.6"/>
<line x1="680.65" y1="217.2" x2="680.65" y2="275.6" stroke="#777" stroke-width="0.5"/>
<rect x="677.6" y="229" width="4.2" height="22" fill="url(#hp)" stroke="#2a2a2a" stroke-width="0.7"/>
<line x1="491.7" y1="287" x2="554" y2="287" stroke="#2a2a2a" stroke-width="2.6"/>
<rect x="493.2" y="289.7" width="24.0" height="10.5" fill="#fff" stroke="#2a2a2a" stroke-width="0.91"/>
<path d="M494.59999999999997 290.9 L511.75000000000006 290.9 A4.05 4.05 0 0 1 511.75000000000006 299.0 L494.59999999999997 299.0 Z" fill="none" stroke="#444" stroke-width="0.5"/>
<circle cx="496.2" cy="294.95" r="0.7" fill="#2a2a2a"/>
<rect x="493.2" y="303.2" width="6.0" height="6.0" fill="#fff" stroke="#2a2a2a" stroke-width="0.78"/>
<rect x="494.4" y="304.59999999999997" width="3.6" height="3.6" fill="#fff" stroke="#555" stroke-width="0.52"/>
<circle cx="496.2" cy="306.8" r="0.7" fill="#2a2a2a"/>
<ellipse cx="498.9" cy="315.2" rx="3.3" ry="2.4" fill="#fff" stroke="#2a2a2a" stroke-width="0.85"/>
<rect x="493.5" y="312.59999999999997" width="2.0" height="5.2" fill="#fff" stroke="#2a2a2a" stroke-width="0.65"/>
<rect x="500" y="318.2" width="18.7" height="4.5" fill="#bbb" stroke="#2a2a2a" stroke-width="1.3"/>
<line x1="501" y1="320.45" x2="517.7" y2="320.45" stroke="#fff" stroke-width="0.6"/>
<line x1="519" y1="288.2" x2="519" y2="306.2" stroke="#2a2a2a" stroke-width="2.0"/>
<line x1="519" y1="317.5" x2="519" y2="323.5" stroke="#2a2a2a" stroke-width="2.0"/>
<line x1="519.5" y1="306.2" x2="522.5" y2="316" stroke="#2a2a2a" stroke-width="0.6"/>
<text x="502.2" y="312.4" font-size="5.2" fill="#484848" text-anchor="start" text-decoration="underline">3.92</text>
<text x="474.5" y="317.7" font-size="5.2" fill="#484848" text-anchor="start" text-decoration="underline">11.80</text>
<circle cx="462.8" cy="313" r="5.2" fill="none" stroke="#2a2a2a" stroke-width="0.7"/>
<text x="462.8" y="315.2" font-size="6" fill="#484848" text-anchor="middle">4</text>
<line x1="451.2" y1="323.8" x2="521.7" y2="323.8" stroke="#2a2a2a" stroke-width="2.6"/>
<rect x="550.2" y="286" width="3.0" height="33.7" fill="#bdbdbd" stroke="#2a2a2a" stroke-width="1.17"/>
<line x1="520" y1="306.2" x2="551" y2="306.2" stroke="#555" stroke-width="0.6" stroke-dasharray="9 2 1.5 2"/>
<rect x="451.7" y="324" width="4.5" height="203.5" fill="#fff" stroke="#2a2a2a" stroke-width="0.91"/>
<rect x="451.7" y="344.5" width="4.5" height="14.0" fill="#d8d8d8" stroke="#666" stroke-width="0.6"/>
<line x1="453.95" y1="344.5" x2="453.95" y2="358.5" stroke="#777" stroke-width="0.5"/>
<rect x="452" y="327" width="3.6" height="17.5" fill="#fff" stroke="#2a2a2a" stroke-width="1.17"/>
<rect x="452" y="358.5" width="3.6" height="10.8" fill="#fff" stroke="#2a2a2a" stroke-width="1.17"/>
<rect x="480.2" y="326.5" width="8.5" height="8.2" fill="#fff" stroke="#2a2a2a" stroke-width="0.91"/>
<circle cx="482.58" cy="328.8" r="1.39" fill="#555" stroke="#2a2a2a" stroke-width="0.5"/>
<circle cx="482.58" cy="332.4" r="1.39" fill="#555" stroke="#2a2a2a" stroke-width="0.5"/>
<circle cx="486.32" cy="328.8" r="1.39" fill="#555" stroke="#2a2a2a" stroke-width="0.5"/>
<circle cx="486.32" cy="332.4" r="1.39" fill="#555" stroke="#2a2a2a" stroke-width="0.5"/>
<rect x="498.5" y="326.5" width="7.5" height="8.2" fill="#fff" stroke="#2a2a2a" stroke-width="0.78"/>
<rect x="499.7" y="327.9" width="5.1" height="5.8" fill="#fff" stroke="#555" stroke-width="0.52"/>
<circle cx="502.25" cy="331.20000000000005" r="0.7" fill="#2a2a2a"/>
<rect x="514.2" y="326.5" width="8.3" height="7.5" fill="#fff" stroke="#2a2a2a" stroke-width="0.78"/>
<rect x="516.5" y="330" width="4.5" height="3" fill="#ddd" stroke="#2a2a2a" stroke-width="0.52"/>
<rect x="523.2" y="323.5" width="3.2" height="18.7" fill="url(#hp)" stroke="#2a2a2a" stroke-width="0.7"/>
<text x="458.5" y="347" font-size="5.4" fill="#484848" text-anchor="start">2</text>
<line x1="463" y1="341.5" x2="468" y2="341.5" stroke="#2a2a2a" stroke-width="0.7"/>
<line x1="468" y1="334" x2="468" y2="343" stroke="#2a2a2a" stroke-width="1.0"/>
<line x1="517.2" y1="344.5" x2="524.7" y2="356.5" stroke="#2a2a2a" stroke-width="0.6"/>
<line x1="525.1" y1="356.5" x2="525.1" y2="370" stroke="#2a2a2a" stroke-width="2.0"/>
<text x="506.7" y="363.4" font-size="5.2" fill="#484848" text-anchor="start" text-decoration="underline">13.68</text>
<text x="531.5" y="363.4" font-size="5.2" fill="#484848" text-anchor="start" text-decoration="underline">10.01</text>
<rect x="550.2" y="334.7" width="2.8" height="85.3" fill="#bdbdbd" stroke="#2a2a2a" stroke-width="1.17"/>
<line x1="560" y1="325" x2="553.2" y2="333.2" stroke="#2a2a2a" stroke-width="0.6"/>
<rect x="576.5" y="284.2" width="105.5" height="3.6" fill="#fff" stroke="#2a2a2a" stroke-width="0.91"/>
<line x1="581" y1="286" x2="677" y2="286" stroke="#2a2a2a" stroke-width="2.0"/>
<rect x="576.5" y="284.2" width="4.5" height="3.6" fill="url(#hp)" stroke="#2a2a2a" stroke-width="0.7"/>
<rect x="620" y="284.2" width="15" height="3.6" fill="url(#hp)" stroke="#2a2a2a" stroke-width="0.7"/>
<rect x="677.6" y="275.6" width="4.2" height="20.4" fill="url(#hp)" stroke="#2a2a2a" stroke-width="0.7"/>
<text x="583" y="279" font-size="5.2" fill="#484848" text-anchor="start" text-decoration="underline">5.08</text>
<text x="660" y="279" font-size="5.2" fill="#484848" text-anchor="start" text-decoration="underline">15.50</text>
<text x="583" y="317" font-size="5.2" fill="#484848" text-anchor="start" text-decoration="underline">5.05</text>
<text x="660" y="326" font-size="5.2" fill="#484848" text-anchor="start" text-decoration="underline">15.50</text>
<line x1="600.8" y1="305" x2="600.8" y2="332" stroke="#2a2a2a" stroke-width="1.6"/>
<line x1="581" y1="323" x2="601" y2="323" stroke="#2a2a2a" stroke-width="2.0"/>
<text x="642.5" y="261.6" font-size="10.8" fill="#4a4a4a" textLength="4.2" lengthAdjust="spacingAndGlyphs">1</text>
<text x="649.3" y="254.3" font-size="4.8" fill="#484848" text-anchor="start" textLength="10.4" lengthAdjust="spacingAndGlyphs">15.50</text>
<text x="649.3" y="259.4" font-size="4.8" fill="#484848" text-anchor="start" text-decoration="underline" textLength="10.4" lengthAdjust="spacingAndGlyphs">38.15</text>
<text x="647.9" y="264.5" font-size="4.8" fill="#484848" text-anchor="start" textLength="13.6" lengthAdjust="spacingAndGlyphs">(40.85)</text>
<text x="640.8" y="311.9" font-size="10.8" fill="#4a4a4a" textLength="4.2" lengthAdjust="spacingAndGlyphs">1</text>
<text x="648.3" y="306.8" font-size="4.8" fill="#484848" text-anchor="start" textLength="11.4" lengthAdjust="spacingAndGlyphs">15.50</text>
<text x="648.3" y="311.9" font-size="4.8" fill="#484848" text-anchor="start" text-decoration="underline" textLength="11.4" lengthAdjust="spacingAndGlyphs">38.15</text>
<text x="646.9" y="317" font-size="4.8" fill="#484848" text-anchor="start" textLength="14.6" lengthAdjust="spacingAndGlyphs">(40.81)</text>
<rect x="621" y="331" width="14" height="4" fill="url(#hp)" stroke="#2a2a2a" stroke-width="0.7"/>
<line x1="635" y1="333" x2="677" y2="333" stroke="#2a2a2a" stroke-width="2.2"/>
<rect x="677.5" y="296" width="6.3" height="60" fill="#d8d8d8" stroke="#666" stroke-width="0.6"/>
<line x1="680.65" y1="296" x2="680.65" y2="356" stroke="#777" stroke-width="0.5"/>
<rect x="677.6" y="322" width="4.2" height="21" fill="url(#hp)" stroke="#2a2a2a" stroke-width="0.7"/>
<line x1="683.8" y1="275" x2="683.8" y2="296" stroke="#555" stroke-width="0.6"/>
<path d="M683.6 332.2 L687.5 332.2 A11.5 11.5 0 0 1 699 343.7 L699 379" fill="none" stroke="#2a2a2a" stroke-width="1.1"/>
<rect x="677.6" y="368" width="4.0" height="11" fill="#fff" stroke="#2a2a2a" stroke-width="1.17"/>
<line x1="675" y1="356" x2="679.6" y2="368" stroke="#2a2a2a" stroke-width="0.6"/>
<text x="686" y="373" font-size="5.2" fill="#484848" text-anchor="start" text-decoration="underline">3.00</text>
<text x="660" y="375" font-size="5.2" fill="#484848" text-anchor="start" text-decoration="underline">11.98</text>
<text x="646" y="355" font-size="4.6" fill="#484848" text-anchor="start">Кухня</text>
<text x="605" y="346" font-size="5.2" fill="#484848" text-anchor="start" text-decoration="underline">4.32</text>
<text x="595" y="369.8" font-size="5.2" fill="#484848" text-anchor="start" text-decoration="underline">4.46</text>
<text x="562.5" y="387.6" font-size="5.2" fill="#484848" text-anchor="start" text-decoration="underline">34.29</text>
<rect x="646" y="370" width="8" height="8" fill="#fff" stroke="#2a2a2a" stroke-width="0.91"/>
<circle cx="648.24" cy="372.24" r="1.36" fill="#555" stroke="#2a2a2a" stroke-width="0.5"/>
<circle cx="648.24" cy="375.76" r="1.36" fill="#555" stroke="#2a2a2a" stroke-width="0.5"/>
<circle cx="651.76" cy="372.24" r="1.36" fill="#555" stroke="#2a2a2a" stroke-width="0.5"/>
<circle cx="651.76" cy="375.76" r="1.36" fill="#555" stroke="#2a2a2a" stroke-width="0.5"/>
<line x1="624" y1="336" x2="629" y2="347" stroke="#2a2a2a" stroke-width="0.6"/>
<rect x="624" y="349" width="7" height="10" fill="#fff" stroke="#2a2a2a" stroke-width="0.78"/>
<rect x="626.5" y="351" width="3.0" height="6" fill="#ddd" stroke="#2a2a2a" stroke-width="0.52"/>
<rect x="624" y="364" width="7.6" height="8" fill="#fff" stroke="#2a2a2a" stroke-width="0.78"/>
<rect x="625.2" y="365.4" width="5.2" height="5.6" fill="#fff" stroke="#555" stroke-width="0.52"/>
<circle cx="627.8" cy="368.6" r="0.7" fill="#2a2a2a"/>
<rect x="616" y="353" width="4.5" height="21" fill="#bbb" stroke="#2a2a2a" stroke-width="1.3"/>
<line x1="618.25" y1="354" x2="618.25" y2="373" stroke="#fff" stroke-width="0.6"/>
<line x1="621.5" y1="348" x2="621.5" y2="379" stroke="#2a2a2a" stroke-width="2.0"/>
<line x1="603" y1="351.5" x2="620" y2="351.5" stroke="#2a2a2a" stroke-width="2.0"/>
<line x1="593" y1="345.6" x2="603" y2="351" stroke="#2a2a2a" stroke-width="0.6"/>
<rect x="576.4" y="349" width="4.6" height="42" fill="url(#hp)" stroke="#2a2a2a" stroke-width="0.7"/>
<rect x="581" y="350" width="11" height="2.5" fill="url(#hp)" stroke="#2a2a2a" stroke-width="0.7"/>
<rect x="581.6" y="352.5" width="10.4" height="25.5" fill="#fff" stroke="#2a2a2a" stroke-width="0.91"/>
<path d="M582.8000000000001 376.6 L582.8000000000001 357.9 A3.9999999999999885 3.9999999999999885 0 0 1 590.8 357.9 L590.8 376.6 Z" fill="none" stroke="#444" stroke-width="0.5"/>
<circle cx="586.8" cy="375" r="0.7" fill="#2a2a2a"/>
<rect x="593" y="372" width="7" height="6" fill="#fff" stroke="#2a2a2a" stroke-width="0.78"/>
<rect x="594.2" y="373.4" width="4.6" height="3.6" fill="#fff" stroke="#555" stroke-width="0.52"/>
<circle cx="596.5" cy="375.6" r="0.7" fill="#2a2a2a"/>
<ellipse cx="609" cy="371" rx="2.4" ry="3.3" fill="#fff" stroke="#2a2a2a" stroke-width="0.85"/>
<rect x="606.4" y="374.4" width="5.2" height="2.0" fill="#fff" stroke="#2a2a2a" stroke-width="0.65"/>
<g transform="translate(610.5,358) rotate(180)" stroke="#b5b5b5" stroke-width="0.6" fill="none"><circle cx="0" cy="1" r="2.6"/><path d="M-3 -4 L-3 -1 M-4.5 -2.5 L-3 -4"/></g>
<rect x="580" y="379" width="128" height="4" fill="#fff" stroke="#2a2a2a" stroke-width="1.04"/>
<rect x="631" y="379" width="12" height="4" fill="url(#hp)" stroke="#2a2a2a" stroke-width="0.7"/>
<rect x="692" y="379" width="16" height="4" fill="url(#hp)" stroke="#2a2a2a" stroke-width="0.7"/>
<line x1="569" y1="337" x2="577" y2="349" stroke="#2a2a2a" stroke-width="0.6"/>
<line x1="546" y1="332.6" x2="620" y2="332.6" stroke="#555" stroke-width="0.6" stroke-dasharray="9 2 1.5 2"/>
<line x1="550.5" y1="381.4" x2="576.5" y2="381.4" stroke="#555" stroke-width="0.6" stroke-dasharray="9 2 1.5 2"/>
<rect x="577" y="320" width="4" height="14" fill="url(#hp)" stroke="#2a2a2a" stroke-width="0.7"/>
<rect x="452.7" y="369.3" width="74.3" height="3.9" fill="#fff" stroke="#2a2a2a" stroke-width="0.91"/>
<rect x="452.7" y="369.3" width="16.5" height="3.9" fill="url(#hp)" stroke="#2a2a2a" stroke-width="0.7"/>
<line x1="474.5" y1="371.3" x2="512.7" y2="371.3" stroke="#2a2a2a" stroke-width="2.4"/>
<rect x="512.7" y="369.3" width="12.8" height="3.9" fill="url(#hp)" stroke="#2a2a2a" stroke-width="0.7"/>
<line x1="542" y1="370.2" x2="529.2" y2="377.2" stroke="#2a2a2a" stroke-width="0.6"/>
<rect x="542" y="369" width="9" height="2" fill="url(#hp)" stroke="#2a2a2a" stroke-width="0.7"/>
<rect x="469.2" y="373.2" width="4.5" height="13.0" fill="#d8d8d8" stroke="#666" stroke-width="0.6"/>
<line x1="471.45" y1="373.2" x2="471.45" y2="386.2" stroke="#777" stroke-width="0.5"/>
<line x1="470.7" y1="386.7" x2="476.7" y2="396.7" stroke="#2a2a2a" stroke-width="0.6"/>
<rect x="470.7" y="399.7" width="3.8" height="20.3" fill="#fff" stroke="#2a2a2a" stroke-width="1.17"/>
<text x="458.7" y="411.8" font-size="5.2" fill="#484848" text-anchor="start" text-decoration="underline">2.79</text>
<text x="532.2" y="413.4" font-size="5.2" fill="#484848" text-anchor="start" text-decoration="underline">16.86</text>
<line x1="527.5" y1="410" x2="527.5" y2="419" stroke="#2a2a2a" stroke-width="0.5"/>
<rect x="452.7" y="419.2" width="103.5" height="3.8" fill="#fff" stroke="#2a2a2a" stroke-width="1.04"/>
<line x1="469.2" y1="420.6" x2="512.7" y2="420.6" stroke="#2a2a2a" stroke-width="2.2"/>
<line x1="525.5" y1="420.6" x2="556.2" y2="420.6" stroke="#2a2a2a" stroke-width="2.2"/>
<rect x="452.7" y="419.2" width="16.5" height="3.8" fill="url(#hp)" stroke="#2a2a2a" stroke-width="0.7"/>
<rect x="512.7" y="419.2" width="12.8" height="3.8" fill="url(#hp)" stroke="#2a2a2a" stroke-width="0.7"/>
<text x="497.6" y="396.1" font-size="10.8" fill="#4a4a4a" textLength="4.2" lengthAdjust="spacingAndGlyphs">1</text>
<text x="504.8" y="390.3" font-size="4.8" fill="#484848" text-anchor="start" textLength="10.4" lengthAdjust="spacingAndGlyphs">16.86</text>
<text x="504.8" y="395.4" font-size="4.8" fill="#484848" text-anchor="start" text-decoration="underline" textLength="10.4" lengthAdjust="spacingAndGlyphs">44.47</text>
<text x="503.4" y="400.5" font-size="4.8" fill="#484848" text-anchor="start" textLength="13.6" lengthAdjust="spacingAndGlyphs">(45.87)</text>
<rect x="451.7" y="374" width="4.5" height="44" fill="#d8d8d8" stroke="#666" stroke-width="0.6"/>
<line x1="453.95" y1="374" x2="453.95" y2="418" stroke="#777" stroke-width="0.5"/>
<rect x="451.7" y="435.5" width="4.5" height="24.5" fill="#d8d8d8" stroke="#666" stroke-width="0.6"/>
<line x1="453.95" y1="435.5" x2="453.95" y2="460" stroke="#777" stroke-width="0.5"/>
<rect x="452" y="423" width="3.6" height="12.5" fill="#fff" stroke="#2a2a2a" stroke-width="1.17"/>
<rect x="452" y="460" width="3.6" height="9" fill="#fff" stroke="#2a2a2a" stroke-width="1.17"/>
<line x1="527.9" y1="423" x2="527.9" y2="447.5" stroke="#2a2a2a" stroke-width="2.0"/>
<rect x="703" y="379" width="5.4" height="100" fill="#fff" stroke="#2a2a2a" stroke-width="0.91"/>
<rect x="703" y="383.3" width="4" height="10.0" fill="#fff" stroke="#2a2a2a" stroke-width="1.17"/>
<rect x="703" y="393.3" width="5.4" height="24.7" fill="#d8d8d8" stroke="#666" stroke-width="0.6"/>
<line x1="705.7" y1="393.3" x2="705.7" y2="418" stroke="#777" stroke-width="0.5"/>
<rect x="703" y="418" width="4" height="8.5" fill="#fff" stroke="#2a2a2a" stroke-width="1.17"/>
<rect x="703" y="430" width="4" height="10" fill="#fff" stroke="#2a2a2a" stroke-width="1.17"/>
<rect x="703" y="440" width="5.4" height="24" fill="#d8d8d8" stroke="#666" stroke-width="0.6"/>
<line x1="705.7" y1="440" x2="705.7" y2="464" stroke="#777" stroke-width="0.5"/>
<rect x="703" y="464" width="4" height="9" fill="#fff" stroke="#2a2a2a" stroke-width="1.17"/>
<line x1="627" y1="384" x2="627" y2="414" stroke="#2a2a2a" stroke-width="2.6"/>
<rect x="629" y="392" width="7" height="21" fill="#fff" stroke="#2a2a2a" stroke-width="0.78"/>
<rect x="631" y="395" width="3.5" height="7" fill="#ddd" stroke="#2a2a2a" stroke-width="0.52"/>
<rect x="637" y="384" width="9" height="10" fill="#fff" stroke="#2a2a2a" stroke-width="0.78"/>
<rect x="638.2" y="385.4" width="6.6" height="7.6" fill="#fff" stroke="#555" stroke-width="0.52"/>
<circle cx="641.5" cy="389.6" r="0.7" fill="#2a2a2a"/>
<rect x="669" y="384" width="9" height="9" fill="#fff" stroke="#2a2a2a" stroke-width="0.91"/>
<circle cx="671.52" cy="386.52" r="1.53" fill="#555" stroke="#2a2a2a" stroke-width="0.5"/>
<circle cx="671.52" cy="390.48" r="1.53" fill="#555" stroke="#2a2a2a" stroke-width="0.5"/>
<circle cx="675.48" cy="386.52" r="1.53" fill="#555" stroke="#2a2a2a" stroke-width="0.5"/>
<circle cx="675.48" cy="390.48" r="1.53" fill="#555" stroke="#2a2a2a" stroke-width="0.5"/>
<text x="658" y="406" font-size="4.6" fill="#484848" text-anchor="start">Кухня</text>
<text x="685" y="421" font-size="5.2" fill="#484848" text-anchor="start" text-decoration="underline">14.93</text>
<text x="685" y="469" font-size="5.2" fill="#484848" text-anchor="start" text-decoration="underline">15.76</text>
<text x="688" y="489" font-size="5.2" fill="#484848" text-anchor="start" text-decoration="underline">3.00</text>
<rect x="631" y="426.4" width="15" height="3.6" fill="url(#hp)" stroke="#2a2a2a" stroke-width="0.7"/>
<line x1="646" y1="428.2" x2="693" y2="428.2" stroke="#2a2a2a" stroke-width="2.2"/>
<rect x="693" y="426.4" width="15" height="3.6" fill="url(#hp)" stroke="#2a2a2a" stroke-width="0.7"/>
<line x1="626.5" y1="427" x2="626.5" y2="442" stroke="#2a2a2a" stroke-width="2.2"/>
<line x1="626.5" y1="454" x2="626.5" y2="474" stroke="#2a2a2a" stroke-width="2.2"/>
<line x1="634" y1="415" x2="627" y2="426" stroke="#2a2a2a" stroke-width="0.6"/>
<line x1="627" y1="441" x2="634" y2="453" stroke="#2a2a2a" stroke-width="0.6"/>
<line x1="627" y1="477" x2="633" y2="488" stroke="#2a2a2a" stroke-width="0.6"/>
<rect x="631" y="473" width="15" height="4" fill="url(#hp)" stroke="#2a2a2a" stroke-width="0.7"/>
<line x1="646" y1="475" x2="680" y2="475" stroke="#2a2a2a" stroke-width="2.2"/>
<rect x="693" y="473" width="15" height="4" fill="url(#hp)" stroke="#2a2a2a" stroke-width="0.7"/>
<rect x="680" y="473" width="13" height="4" fill="#fff" stroke="#2a2a2a" stroke-width="0.91"/>
<text x="648" y="453.9" font-size="10.8" fill="#4a4a4a" textLength="4.2" lengthAdjust="spacingAndGlyphs">3</text>
<text x="655.8" y="448.8" font-size="4.8" fill="#484848" text-anchor="start" textLength="10.9" lengthAdjust="spacingAndGlyphs">44.54</text>
<text x="655.8" y="453.9" font-size="4.8" fill="#484848" text-anchor="start" text-decoration="underline" textLength="10.9" lengthAdjust="spacingAndGlyphs">80.24</text>
<text x="654.4" y="459" font-size="4.8" fill="#484848" text-anchor="start" textLength="14.1" lengthAdjust="spacingAndGlyphs">(81.74)</text>
<rect x="577" y="406" width="4" height="146.5" fill="#c4c4c4" stroke="#2a2a2a" stroke-width="1.17"/>
<rect x="577" y="406" width="4" height="16.7" fill="#fff" stroke="#2a2a2a" stroke-width="1.17"/>
<rect x="577" y="422.7" width="4" height="13.3" fill="url(#hp)" stroke="#2a2a2a" stroke-width="0.7"/>
<rect x="577" y="539" width="4" height="13.5" fill="url(#hp)" stroke="#2a2a2a" stroke-width="0.7"/>
<line x1="581" y1="409.3" x2="609.6" y2="409.3" stroke="#2a2a2a" stroke-width="2.0"/>
<line x1="608.6" y1="408" x2="608.6" y2="424" stroke="#2a2a2a" stroke-width="1.8"/>
<text x="591" y="420.2" font-size="5.2" fill="#484848" text-anchor="start" text-decoration="underline">1.99</text>
<text x="593" y="439.2" font-size="5.2" fill="#484848" text-anchor="start" text-decoration="underline">2.59</text>
<text x="613" y="461.2" font-size="5.2" fill="#484848" text-anchor="start" text-decoration="underline">11.58</text>
<text x="591" y="481.2" font-size="5.2" fill="#484848" text-anchor="start" text-decoration="underline">3.31</text>
<line x1="581" y1="427" x2="607" y2="427" stroke="#2a2a2a" stroke-width="0.9"/>
<rect x="607.6" y="424" width="2.0" height="6" fill="url(#hp)" stroke="#2a2a2a" stroke-width="0.7"/>
<line x1="609" y1="430" x2="615" y2="440" stroke="#2a2a2a" stroke-width="0.6"/>
<rect x="571" y="419" width="6" height="3.4" fill="#fff" stroke="#2a2a2a" stroke-width="0.91"/>
<line x1="560" y1="413" x2="571" y2="420" stroke="#2a2a2a" stroke-width="0.6"/>
<line x1="569" y1="392" x2="577" y2="406" stroke="#2a2a2a" stroke-width="0.6"/>
<rect x="582.4" y="430" width="5.6" height="6" fill="#fff" stroke="#2a2a2a" stroke-width="0.78"/>
<rect x="583.6" y="431.4" width="3.2" height="3.6" fill="#fff" stroke="#555" stroke-width="0.52"/>
<circle cx="585.2" cy="433.6" r="0.7" fill="#2a2a2a"/>
<ellipse cx="587.6" cy="440.6" rx="3.3" ry="2.4" fill="#fff" stroke="#2a2a2a" stroke-width="0.85"/>
<rect x="582.2" y="438.0" width="2.0" height="5.2" fill="#fff" stroke="#2a2a2a" stroke-width="0.65"/>
<rect x="598" y="444" width="11" height="6" fill="#bbb" stroke="#2a2a2a" stroke-width="1.3"/>
<line x1="599" y1="447.0" x2="608" y2="447.0" stroke="#fff" stroke-width="0.6"/>
<line x1="581" y1="450.5" x2="609" y2="450.5" stroke="#2a2a2a" stroke-width="2.0"/>
<line x1="608.6" y1="442" x2="608.6" y2="464" stroke="#2a2a2a" stroke-width="1.8"/>
<rect x="582" y="453" width="25" height="11" fill="#fff" stroke="#2a2a2a" stroke-width="0.91"/>
<path d="M583.4 454.2 L601.3000000000001 454.2 A4.3 4.3 0 0 1 601.3000000000001 462.8 L583.4 462.8 Z" fill="none" stroke="#444" stroke-width="0.5"/>
<circle cx="585" cy="458.5" r="0.7" fill="#2a2a2a"/>
<rect x="582.4" y="465.6" width="5.6" height="6.4" fill="#fff" stroke="#2a2a2a" stroke-width="0.78"/>
<rect x="583.6" y="467.0" width="3.2" height="4.0" fill="#fff" stroke="#555" stroke-width="0.52"/>
<circle cx="585.2" cy="469.40000000000003" r="0.7" fill="#2a2a2a"/>
<line x1="615" y1="465.6" x2="609" y2="474" stroke="#2a2a2a" stroke-width="0.6"/>
<line x1="609" y1="474" x2="609" y2="490" stroke="#2a2a2a" stroke-width="1.8"/>
<g transform="translate(590,485) rotate(270)" stroke="#b5b5b5" stroke-width="0.6" fill="none"><circle cx="0" cy="1" r="2.6"/><path d="M-3 -4 L-3 -1 M-4.5 -2.5 L-3 -4"/></g>
<rect x="599" y="485" width="10" height="5" fill="#bbb" stroke="#2a2a2a" stroke-width="1.3"/>
<line x1="600" y1="487.5" x2="608" y2="487.5" stroke="#fff" stroke-width="0.6"/>
<line x1="581" y1="491" x2="610" y2="491" stroke="#2a2a2a" stroke-width="2.0"/>
<line x1="550" y1="428.4" x2="712" y2="428.4" stroke="#555" stroke-width="0.6" stroke-dasharray="9 2 1.5 2"/>
<line x1="680" y1="383" x2="680" y2="552" stroke="#555" stroke-width="0.6" stroke-dasharray="9 2 1.5 2"/>
<rect x="451.7" y="483" width="4.5" height="26" fill="#d8d8d8" stroke="#666" stroke-width="0.6"/>
<line x1="453.95" y1="483" x2="453.95" y2="509" stroke="#777" stroke-width="0.5"/>
<rect x="452" y="472.4" width="3.6" height="10.6" fill="#fff" stroke="#2a2a2a" stroke-width="1.17"/>
<rect x="452" y="509" width="3.6" height="14" fill="#fff" stroke="#2a2a2a" stroke-width="1.17"/>
<rect x="453" y="469" width="76.4" height="3.4" fill="#fff" stroke="#2a2a2a" stroke-width="0.91"/>
<rect x="453" y="469" width="13" height="3.4" fill="url(#hp)" stroke="#2a2a2a" stroke-width="0.7"/>
<line x1="466" y1="470.8" x2="512" y2="470.8" stroke="#2a2a2a" stroke-width="2.2"/>
<rect x="512" y="469" width="16" height="3.4" fill="url(#hp)" stroke="#2a2a2a" stroke-width="0.7"/>
<line x1="528.2" y1="460" x2="528.2" y2="473" stroke="#2a2a2a" stroke-width="2.0"/>
<line x1="528.2" y1="488" x2="528.2" y2="524" stroke="#2a2a2a" stroke-width="1.2"/>
<rect x="527" y="488" width="2.4" height="6" fill="#fff" stroke="#2a2a2a" stroke-width="0.78"/>
<line x1="520" y1="449" x2="528" y2="460" stroke="#2a2a2a" stroke-width="0.6"/>
<line x1="528" y1="473" x2="521" y2="484" stroke="#2a2a2a" stroke-width="0.6"/>
<line x1="529.4" y1="490" x2="543" y2="500" stroke="#2a2a2a" stroke-width="0.6"/>
<text x="509" y="464" font-size="5.2" fill="#484848" text-anchor="start" text-decoration="underline">15.77</text>
<text x="531" y="486" font-size="5.2" fill="#484848" text-anchor="start" text-decoration="underline">9.06</text>
<text x="510" y="519" font-size="5.2" fill="#484848" text-anchor="start" text-decoration="underline">16.66</text>
<text x="513" y="537" font-size="5.2" fill="#484848" text-anchor="start" text-decoration="underline">3.00</text>
<text x="485" y="490.9" font-size="10.8" fill="#4a4a4a" textLength="4.2" lengthAdjust="spacingAndGlyphs">2</text>
<text x="492.8" y="485.8" font-size="4.8" fill="#484848" text-anchor="start" textLength="10.9" lengthAdjust="spacingAndGlyphs">32.43</text>
<text x="492.8" y="490.9" font-size="4.8" fill="#484848" text-anchor="start" text-decoration="underline" textLength="10.9" lengthAdjust="spacingAndGlyphs">60.58</text>
<text x="491.4" y="496" font-size="4.8" fill="#484848" text-anchor="start" textLength="14.1" lengthAdjust="spacingAndGlyphs">(62.06)</text>
<rect x="453" y="523" width="76" height="5" fill="#fff" stroke="#2a2a2a" stroke-width="0.91"/>
<rect x="453" y="523" width="14.2" height="5" fill="url(#hp)" stroke="#2a2a2a" stroke-width="0.7"/>
<rect x="467.2" y="523" width="20.4" height="5" fill="#c4c4c4" stroke="#2a2a2a" stroke-width="1.17"/>
<rect x="488.5" y="523.2" width="12.5" height="4.6" fill="#fff" stroke="#2a2a2a" stroke-width="0.0"/>
<rect x="488.5" y="522.5" width="12.5" height="6" fill="#fff"/>
<line x1="488" y1="525.6" x2="497" y2="521" stroke="#2a2a2a" stroke-width="0.6"/>
<rect x="500.4" y="523" width="11.9" height="5" fill="#d8d8d8" stroke="#666" stroke-width="0.6"/>
<line x1="500.4" y1="525.5" x2="512.3" y2="525.5" stroke="#777" stroke-width="0.5"/>
<rect x="512.3" y="523" width="17.0" height="5" fill="#c4c4c4" stroke="#2a2a2a" stroke-width="1.17"/>
<path d="M478.3 528 L478.3 531.5 A12.4 12.4 0 0 0 490.7 543.9 L524.2 543.9" fill="none" stroke="#2a2a2a" stroke-width="1.1"/>
<rect x="524.2" y="528" width="5.1" height="26" fill="#fff" stroke="#2a2a2a" stroke-width="1.04"/>
<rect x="524.2" y="539" width="5.1" height="15" fill="url(#hp)" stroke="#2a2a2a" stroke-width="0.7"/>
<path d="M547 447 L547 438 L578 438" fill="none" stroke="#555" stroke-width="0.5" stroke-dasharray="4 2"/>
<rect x="548.3" y="446.7" width="5.0" height="11.3" fill="#bbb" stroke="#2a2a2a" stroke-width="1.3"/>
<line x1="550.8" y1="447.7" x2="550.8" y2="457" stroke="#fff" stroke-width="0.6"/>
<rect x="565.6" y="448" width="11.4" height="25" fill="#fff" stroke="#2a2a2a" stroke-width="0.91"/>
<path d="M566.8000000000001 471.6 L566.8000000000001 453.9 A4.4999999999999885 4.4999999999999885 0 0 1 575.8 453.9 L575.8 471.6 Z" fill="none" stroke="#444" stroke-width="0.5"/>
<circle cx="571.3" cy="470" r="0.7" fill="#2a2a2a"/>
<g transform="translate(560,453) rotate(0)" stroke="#b5b5b5" stroke-width="0.6" fill="none"><circle cx="0" cy="1" r="2.6"/><path d="M-3 -4 L-3 -1 M-4.5 -2.5 L-3 -4"/></g>
<line x1="549.2" y1="467" x2="549.2" y2="478" stroke="#2a2a2a" stroke-width="2.0"/>
<line x1="548" y1="475.7" x2="578" y2="475.7" stroke="#2a2a2a" stroke-width="2.2"/>
<rect x="556" y="468" width="7" height="6" fill="#fff" stroke="#2a2a2a" stroke-width="0.78"/>
<rect x="557.2" y="469.4" width="4.6" height="3.6" fill="#fff" stroke="#555" stroke-width="0.52"/>
<circle cx="559.5" cy="471.6" r="0.7" fill="#2a2a2a"/>
<rect x="556" y="477" width="7" height="4.5" fill="#fff" stroke="#2a2a2a" stroke-width="0.78"/>
<rect x="557.2" y="478.4" width="4.6" height="2.1" fill="#fff" stroke="#555" stroke-width="0.52"/>
<circle cx="559.5" cy="479.85" r="0.7" fill="#2a2a2a"/>
<text x="554" y="466.2" font-size="5.2" fill="#484848" text-anchor="start" text-decoration="underline">3.27</text>
<text x="556" y="489.2" font-size="5.2" fill="#484848" text-anchor="start" text-decoration="underline">2.19</text>
<ellipse cx="570.4" cy="485" rx="3.3" ry="2.4" fill="#fff" stroke="#2a2a2a" stroke-width="0.85"/>
<rect x="573.8" y="482.4" width="2.0" height="5.2" fill="#fff" stroke="#2a2a2a" stroke-width="0.65"/>
<rect x="546" y="491" width="24" height="5.5" fill="#bbb" stroke="#2a2a2a" stroke-width="1.3"/>
<line x1="547" y1="493.75" x2="569" y2="493.75" stroke="#fff" stroke-width="0.6"/>
<line x1="546" y1="497" x2="578" y2="497" stroke="#2a2a2a" stroke-width="2.0"/>
<line x1="548" y1="456" x2="542" y2="466" stroke="#2a2a2a" stroke-width="0.6"/>
<line x1="540" y1="481" x2="546" y2="491" stroke="#2a2a2a" stroke-width="0.6"/>
<rect x="548" y="499" width="8" height="8" fill="#fff" stroke="#2a2a2a" stroke-width="0.78"/>
<rect x="549.5" y="503.5" width="5.0" height="2.5" fill="#ddd" stroke="#2a2a2a" stroke-width="0.52"/>
<rect x="561" y="499" width="9" height="8" fill="#fff" stroke="#2a2a2a" stroke-width="0.78"/>
<rect x="562.2" y="500.4" width="6.6" height="5.6" fill="#fff" stroke="#555" stroke-width="0.52"/>
<circle cx="565.5" cy="503.6" r="0.7" fill="#2a2a2a"/>
<rect x="568" y="517" width="9" height="9" fill="#fff" stroke="#2a2a2a" stroke-width="0.91"/>
<circle cx="570.52" cy="519.52" r="1.53" fill="#555" stroke="#2a2a2a" stroke-width="0.5"/>
<circle cx="570.52" cy="523.48" r="1.53" fill="#555" stroke="#2a2a2a" stroke-width="0.5"/>
<circle cx="574.48" cy="519.52" r="1.53" fill="#555" stroke="#2a2a2a" stroke-width="0.5"/>
<circle cx="574.48" cy="523.48" r="1.53" fill="#555" stroke="#2a2a2a" stroke-width="0.5"/>
<text x="547" y="526" font-size="4.6" fill="#484848" text-anchor="start">Кухня</text>
<text x="560" y="543" font-size="5.2" fill="#484848" text-anchor="start" text-decoration="underline">11.61</text>
<text x="608" y="544" font-size="5.2" fill="#484848" text-anchor="start" text-decoration="underline">11.71</text>
<text x="660" y="544" font-size="5.2" fill="#484848" text-anchor="start" text-decoration="underline">17.07</text>
<line x1="529.4" y1="471" x2="548" y2="471" stroke="#555" stroke-width="0.6" stroke-dasharray="9 2 1.5 2"/>
<rect x="524.2" y="548.5" width="158.8" height="5.5" fill="#d8d8d8" stroke="#666" stroke-width="0.6"/>
<line x1="524.2" y1="551.25" x2="683" y2="551.25" stroke="#777" stroke-width="0.5"/>
<rect x="529.3" y="549" width="16.1" height="5" fill="#fff" stroke="#2a2a2a" stroke-width="1.17"/>
<rect x="571" y="549" width="20.4" height="5" fill="#fff" stroke="#2a2a2a" stroke-width="1.17"/>
<rect x="617" y="549" width="20" height="5" fill="#fff" stroke="#2a2a2a" stroke-width="1.17"/>
<rect x="662" y="549" width="21" height="5" fill="#fff" stroke="#2a2a2a" stroke-width="1.17"/>
<rect x="524.2" y="539" width="5.1" height="15" fill="url(#hp)" stroke="#2a2a2a" stroke-width="0.7"/>
<rect x="577" y="539" width="4" height="13.5" fill="url(#hp)" stroke="#2a2a2a" stroke-width="0.7"/>
<line x1="626.5" y1="491" x2="626.5" y2="548" stroke="#2a2a2a" stroke-width="2.2"/>
<rect x="624.8" y="538" width="3.4" height="14.5" fill="url(#hp)" stroke="#2a2a2a" stroke-width="0.7"/>
<line x1="626" y1="491" x2="613" y2="499" stroke="#2a2a2a" stroke-width="0.6"/>
<rect x="677.6" y="477" width="5.4" height="24" fill="#eee" stroke="#2a2a2a" stroke-width="1.17"/>
<line x1="680.3" y1="479" x2="680.3" y2="500" stroke="#777" stroke-width="0.5"/>
<rect x="677.6" y="514" width="5.4" height="39.5" fill="#c4c4c4" stroke="#2a2a2a" stroke-width="1.17"/>
<rect x="677.6" y="538" width="5.4" height="15.5" fill="url(#hp)" stroke="#2a2a2a" stroke-width="0.7"/>
<line x1="676" y1="505" x2="680" y2="514" stroke="#2a2a2a" stroke-width="0.6"/>
<path d="M698.4 477 L698.4 507 A15.4 17.5 0 0 1 683 524.8" fill="none" stroke="#2a2a2a" stroke-width="1.1"/>
<text transform="rotate(-90 553.6 187)" x="553.6" y="187" font-size="3.6" fill="#9a9a9a" textLength="40" lengthAdjust="spacingAndGlyphs">2 этаж: Б-260; 3-8 эт. Б-1</text>
</g>
</svg>
</body></html>
